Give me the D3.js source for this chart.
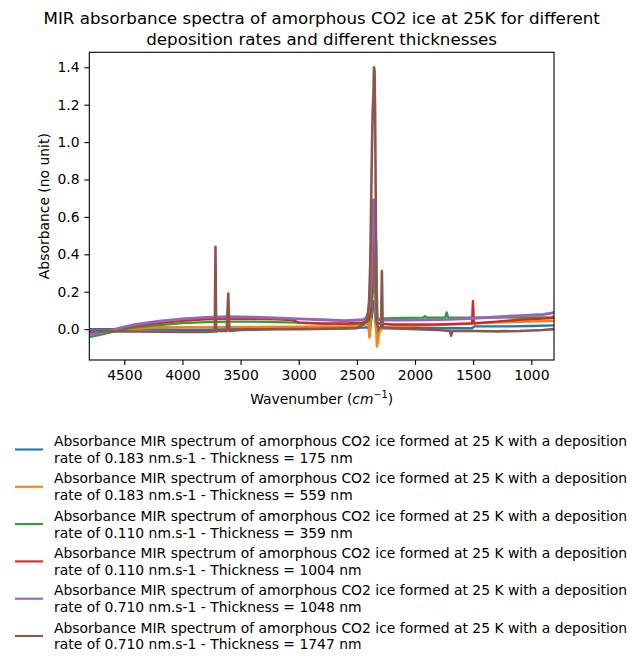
<!DOCTYPE html>
<html>
<head>
<meta charset="utf-8">
<script src="https://cdn.jsdelivr.net/npm/d3@7"></script>
<style>
  html, body { margin: 0; padding: 0; background: #fff; }
  svg { display: block; font-family: "DejaVu Sans", sans-serif; }
</style>
</head>
<body>
<svg id="chart" width="642" height="666"></svg>
<script>
// ---------- data (wavenumber cm^-1, absorbance) ----------
const titleLines = ["MIR absorbance spectra of amorphous CO2 ice at 25K for different",
                    "deposition rates and different thicknesses"];
const xTicks = [4500, 4000, 3500, 3000, 2500, 2000, 1500, 1000];
const yTicks = [0.0, 0.2, 0.4, 0.6, 0.8, 1.0, 1.2, 1.4];
const colors = ["#1f77b4", "#ff7f0e", "#2ca02c", "#d62728", "#9467bd", "#8c564b"];
const labels = [
  ["Absorbance MIR spectrum of amorphous CO2 ice formed at 25 K with a deposition", "rate of 0.183 nm.s-1 - Thickness = 175 nm"],
  ["Absorbance MIR spectrum of amorphous CO2 ice formed at 25 K with a deposition", "rate of 0.183 nm.s-1 - Thickness = 559 nm"],
  ["Absorbance MIR spectrum of amorphous CO2 ice formed at 25 K with a deposition", "rate of 0.110 nm.s-1 - Thickness = 359 nm"],
  ["Absorbance MIR spectrum of amorphous CO2 ice formed at 25 K with a deposition", "rate of 0.110 nm.s-1 - Thickness = 1004 nm"],
  ["Absorbance MIR spectrum of amorphous CO2 ice formed at 25 K with a deposition", "rate of 0.710 nm.s-1 - Thickness = 1048 nm"],
  ["Absorbance MIR spectrum of amorphous CO2 ice formed at 25 K with a deposition", "rate of 0.710 nm.s-1 - Thickness = 1747 nm"]
];

const s175 = [[4800,0.0],[4600,0.0],[4400,0.0],[4200,-0.002],[4000,-0.003],[3800,-0.003],[3600,0.0],[3400,0.0],[3000,0.002],[2600,0.005],[2450,0.008],[2400,0.01],[2390,-0.03],[2382,0.02],[2368,0.08],[2355,0.15],[2345,0.12],[2338,0.02],[2326,-0.035],[2315,0.0],[2300,0.005],[2000,0.005],[1700,0.005],[1510,0.005],[1490,0.015],[1200,0.015],[1000,0.017],[805,0.02]];
const s559 = [[4800,-0.01],[4600,-0.008],[4450,-0.005],[4350,0.005],[4200,0.01],[3800,0.01],[3400,0.012],[3000,0.013],[2600,0.016],[2450,0.02],[2400,0.03],[2392,-0.045],[2382,0.04],[2368,0.2],[2355,0.45],[2345,0.35],[2338,0.05],[2328,-0.093],[2320,-0.07],[2310,-0.02],[2290,0.0],[2200,0.015],[2000,0.018],[1800,0.022],[1600,0.028],[1400,0.034],[1200,0.038],[1000,0.041],[805,0.045]];
const s359 = [[4800,-0.043],[4700,-0.03],[4600,-0.015],[4500,0.0],[4400,0.01],[4200,0.022],[4000,0.032],[3800,0.038],[3600,0.04],[3400,0.04],[3200,0.038],[3000,0.035],[2800,0.03],[2600,0.028],[2450,0.03],[2400,0.04],[2380,0.07],[2362,0.2],[2345,0.38],[2334,0.47],[2328,0.2],[2322,0.05],[2310,0.055],[2250,0.058],[2100,0.06],[1930,0.062],[1915,0.07],[1900,0.062],[1740,0.062],[1728,0.09],[1715,0.062],[1500,0.062],[1300,0.062],[1000,0.063],[820,0.064],[805,0.07]];
const s1004 = [[4800,-0.02],[4700,-0.012],[4600,-0.003],[4500,0.008],[4400,0.018],[4200,0.033],[4000,0.045],[3800,0.053],[3600,0.056],[3400,0.055],[3200,0.052],[3050,0.048],[3000,0.035],[2800,0.03],[2600,0.03],[2450,0.035],[2400,0.05],[2380,0.1],[2368,0.3],[2355,0.6],[2345,0.55],[2338,0.2],[2330,0.04],[2310,0.03],[2200,0.025],[2000,0.025],[1800,0.025],[1510,0.03],[1502,0.15],[1494,0.03],[1300,0.04],[1100,0.05],[900,0.057],[805,0.06]];
const s1048 = [[4800,-0.03],[4700,-0.018],[4600,-0.004],[4500,0.012],[4400,0.025],[4200,0.042],[4000,0.055],[3800,0.063],[3600,0.066],[3400,0.064],[3200,0.06],[3000,0.055],[2800,0.05],[2600,0.045],[2450,0.05],[2420,0.06],[2400,0.09],[2388,0.14],[2378,0.25],[2368,0.5],[2358,0.69],[2348,0.69],[2340,0.4],[2333,0.1],[2325,0.05],[2300,0.048],[2100,0.048],[1900,0.05],[1700,0.052],[1500,0.058],[1300,0.065],[1100,0.072],[900,0.078],[830,0.085],[805,0.09]];
const s1747 = [[4800,-0.01],[4600,-0.012],[4400,-0.013],[4200,-0.014],[4000,-0.015],[3800,-0.015],[3722,-0.013],[3716,0.44],[3710,-0.013],[3700,-0.01],[3620,-0.01],[3606,0.19],[3596,-0.01],[3500,-0.005],[3200,0.0],[3000,0.0],[2700,0.002],[2500,0.005],[2460,0.02],[2420,0.04],[2405,0.08],[2395,0.15],[2385,0.35],[2378,0.65],[2370,0.98],[2364,1.17],[2358,1.25],[2353,1.4],[2348,1.38],[2343,1.15],[2338,0.7],[2333,0.2],[2327,0.03],[2318,0.01],[2292,0.01],[2285,0.31],[2278,0.01],[2200,0.005],[2000,0.0],[1800,-0.005],[1700,-0.01],[1690,-0.035],[1680,-0.01],[1500,-0.01],[1300,-0.012],[1100,-0.01],[900,-0.005],[805,0.0]];
const seriesData = [s175, s559, s359, s1004, s1048, s1747];
const strokeWidths = [2.4, 2.4, 2.3, 2.4, 2.9, 2.6];

// ---------- layout ----------
const svg = d3.select("#chart");
const L = 89.3, R = 554, T = 52.3, B = 360;
const x = d3.scaleLinear().domain([4801, 805]).range([L, R]);
const y = d3.scaleLinear().domain([-0.165, 1.48]).range([B, T]);
const fs = 13.9;

svg.append("defs").append("clipPath").attr("id", "clip")
  .append("rect").attr("x", L).attr("y", T).attr("width", R - L).attr("height", B - T);

const line = d3.line().x(d => x(d[0])).y(d => y(d[1]));
const g = svg.append("g").attr("clip-path", "url(#clip)");
seriesData.forEach((s, i) => {
  g.append("path").datum(s).attr("d", line)
    .attr("fill", "none").attr("stroke", colors[i])
    .attr("stroke-width", strokeWidths[i]).attr("stroke-linejoin", "round");
});

// axes
const xAxis = svg.append("g").attr("transform", `translate(0,${B})`)
  .call(d3.axisBottom(x).tickValues(xTicks).tickSize(4.9).tickPadding(4.9).tickFormat(d3.format("d")));
const yAxis = svg.append("g").attr("transform", `translate(${L},0)`)
  .call(d3.axisLeft(y).tickValues(yTicks).tickSize(4.9).tickPadding(4.9).tickFormat(d3.format(".1f")));
[xAxis, yAxis].forEach(a => {
  a.select(".domain").remove();
  a.selectAll(".tick line").attr("stroke", "#000").attr("stroke-width", 1.1);
  a.selectAll(".tick text").attr("font-size", fs).attr("fill", "#000")
    .attr("font-family", "DejaVu Sans, sans-serif");
});

svg.append("rect").attr("x", L).attr("y", T).attr("width", R - L).attr("height", B - T)
  .attr("fill", "none").attr("stroke", "#000").attr("stroke-width", 1.1);

// title
const cx = (L + R) / 2;
titleLines.forEach((t, i) => {
  svg.append("text").attr("x", cx).attr("y", 18 + i * 21)
    .attr("text-anchor", "middle").attr("dominant-baseline", "central")
    .attr("font-size", 16.7).attr("fill", "#000").text(t);
});

// x label
const xl = svg.append("text").attr("x", cx).attr("y", 399)
  .attr("text-anchor", "middle").attr("dominant-baseline", "central")
  .attr("font-size", fs).attr("fill", "#000");
xl.append("tspan").text("Wavenumber (");
xl.append("tspan").attr("font-style", "italic").text("cm");
xl.append("tspan").attr("font-size", 9.7).attr("dy", -5).text("−1");
xl.append("tspan").attr("dy", 5).text(")");

// y label
svg.append("text").attr("transform", `translate(44,${(T + B) / 2}) rotate(-90)`)
  .attr("text-anchor", "middle").attr("dominant-baseline", "central")
  .attr("font-size", fs).attr("fill", "#000").text("Absorbance (no unit)");

// legend
labels.forEach((lab, i) => {
  const cy = 449.5 + i * 37.3;
  svg.append("line").attr("x1", 15).attr("x2", 43).attr("y1", cy).attr("y2", cy)
    .attr("stroke", colors[i]).attr("stroke-width", 2.1);
  lab.forEach((t, j) => {
    svg.append("text").attr("x", 54).attr("y", cy + (j === 0 ? -8.4 : 8.4))
      .attr("dominant-baseline", "central").attr("font-size", fs).attr("fill", "#000").text(t);
  });
});
</script>
</body>
</html>
